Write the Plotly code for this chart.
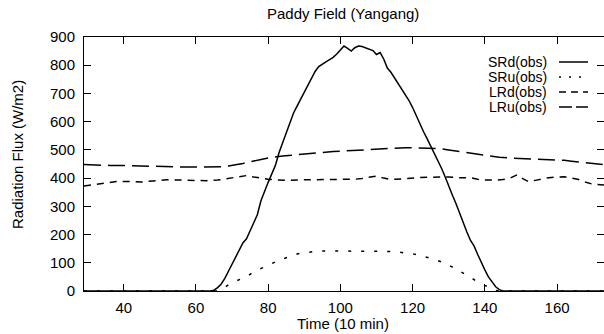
import plotly.graph_objects as go

# ---- data ----
srd_x = list(range(29, 174))
srd_y = ([0] * (65 - 29)) + [
    3, 12, 25, 45, 70, 95, 125, 150, 170, 185, 215, 240, 270, 320, 355, 385,
    415, 445, 490, 525, 560, 600, 630, 655, 680, 705, 730, 755, 778, 795, 805,
    812, 820, 828, 840, 855, 868, 860, 850, 862, 868, 866, 862, 857, 852, 838,
    845, 822, 790, 775, 755, 735, 715, 695, 675, 650, 620, 595, 565, 540, 515,
    490, 462, 435, 405, 370, 340, 310, 275, 240, 210, 180, 160, 130, 100, 75,
    50, 30, 15, 5] + ([0] * (173 - 144))

sru_x = [29, 40, 50, 60, 66, 67, 68, 69, 70, 72, 74, 76, 78, 80, 82, 84, 86, 88,
         90, 92, 94, 96, 98, 100, 102, 104, 106, 108, 110, 112, 114, 116, 118,
         120, 122, 124, 126, 128, 130, 132, 134, 136, 138, 140, 142, 143, 144,
         150, 160, 173]
sru_y = [0, 0, 0, 0, 0, 5, 12, 22, 30, 40, 50, 68, 80, 93, 103, 113, 123, 131,
         136, 139, 141, 142, 142, 142, 142, 142, 142, 142, 142, 141, 140, 138,
         135, 132, 126, 120, 112, 103, 92, 78, 62, 48, 33, 20, 8, 2, 0,
         0, 0, 0]

lrd_x = [29, 31, 33, 35, 38, 41, 45, 48, 52, 56, 60, 63, 66, 68, 70, 72, 74, 76,
         78, 80, 82, 86, 90, 95, 100, 104, 106, 108, 110, 112, 114, 117, 120,
         122, 125, 128, 130, 133, 136, 138, 140, 143, 145, 147, 149, 150, 152,
         154, 157, 160, 162, 164, 166, 168, 170, 173]
lrd_y = [372, 376, 380, 383, 388, 388, 386, 390, 394, 393, 392, 391, 393, 397,
         402, 406, 409, 404, 399, 396, 394, 392, 394, 395, 394, 396, 399, 402,
         407, 400, 395, 397, 401, 402, 403, 404, 404, 401, 402, 396, 393, 393,
         395, 400, 412, 402, 388, 392, 400, 404, 405, 400, 395, 385, 378, 376]

lru_x = [29, 32, 36, 40, 44, 48, 52, 56, 60, 64, 67, 69, 71, 73, 75, 77, 79, 81,
         84, 87, 90, 94, 98, 102, 106, 110, 114, 118, 122, 126, 128, 130, 133,
         136, 140, 144, 148, 152, 156, 160, 162, 164, 166, 168, 170, 173]
lru_y = [448, 446, 445, 445, 443, 441, 440, 439, 439, 439, 440, 443, 447, 452,
         458, 464, 470, 474, 478, 482, 486, 490, 494, 497, 501, 504, 506, 508,
         507, 506, 504, 500, 494, 488, 480, 474, 470, 468, 466, 466, 463, 460,
         457, 455, 452, 448]

series_names = ["SRd(obs)", "SRu(obs)", "LRd(obs)", "LRu(obs)"]
x_ticks = [40, 60, 80, 100, 120, 140, 160]
y_ticks = [0, 100, 200, 300, 400, 500, 600, 700, 800, 900]

title_text = "Paddy Field (Yangang)"
x_title = "Time (10 min)"
y_title = "Radiation Flux (W/m2)"

# ---- styling ----
FONT = "Liberation Sans, Arial, Helvetica, sans-serif"
FS = 15
dashes = ["solid", "3px,10px", "7px,6px", "17px,7px"]
leg_dashes = ["solid", "2px,8px", "7px,5px", "13px,4px"]
W, H = 604, 334
ML, MR, MT, MB = 84, 0, 37, 43
PW, PH = W - ML - MR, H - MT - MB

fig = go.Figure()
data = [(srd_x, srd_y), (sru_x, sru_y), (lrd_x, lrd_y), (lru_x, lru_y)]
for (xs, ys), name, d in zip(data, series_names, dashes):
    fig.add_trace(go.Scatter(x=xs, y=ys, mode="lines", name=name,
                             line=dict(color="black", width=1.5, dash=d),
                             showlegend=False))

def px2paper_x(p):
    return (p - ML) / PW

def px2paper_y(p):
    return (H - MB - p) / PH

annotations = []
shapes = []
leg_rows = [62, 77, 92, 107]
for name, d, yrow in zip(series_names, leg_dashes, leg_rows):
    annotations.append(dict(text=name, xref="paper", yref="paper",
                            x=px2paper_x(549), y=px2paper_y(yrow),
                            xanchor="right", yanchor="middle", showarrow=False,
                            font=dict(family=FONT, size=14, color="black")))
    shapes.append(dict(type="line", xref="paper", yref="paper",
                       x0=px2paper_x(559), x1=px2paper_x(588),
                       y0=px2paper_y(yrow), y1=px2paper_y(yrow),
                       line=dict(color="black", width=1.5, dash=d)))

annotations.append(dict(text=title_text, xref="paper", yref="paper",
                        x=px2paper_x(343), y=px2paper_y(14),
                        xanchor="center", yanchor="middle", showarrow=False,
                        font=dict(family=FONT, size=FS, color="black")))
annotations.append(dict(text=x_title, xref="paper", yref="paper",
                        x=px2paper_x(343), y=px2paper_y(323),
                        xanchor="center", yanchor="middle", showarrow=False,
                        font=dict(family=FONT, size=FS, color="black")))
annotations.append(dict(text=y_title, xref="paper", yref="paper",
                        x=px2paper_x(17), y=px2paper_y(155), textangle=-90,
                        xanchor="center", yanchor="middle", showarrow=False,
                        font=dict(family=FONT, size=FS, color="black")))

axis_common = dict(showline=True, linecolor="black", linewidth=1,
                   mirror="ticks", ticks="inside", ticklen=7, tickwidth=1,
                   tickcolor="black", showgrid=False, zeroline=False,
                   tickfont=dict(family=FONT, size=FS, color="black"))

fig.update_layout(
    width=W, height=H,
    margin=dict(l=ML, r=MR, t=MT, b=MB, pad=0),
    paper_bgcolor="white", plot_bgcolor="white",
    xaxis=dict(range=[29, 173], tickvals=x_ticks, ticklabelstandoff=3,
               **axis_common),
    yaxis=dict(range=[0, 900], tickvals=y_ticks, ticklabelstandoff=5,
               **axis_common),
    annotations=annotations, shapes=shapes,
    showlegend=False,
)

fig.write_html("out.html")
